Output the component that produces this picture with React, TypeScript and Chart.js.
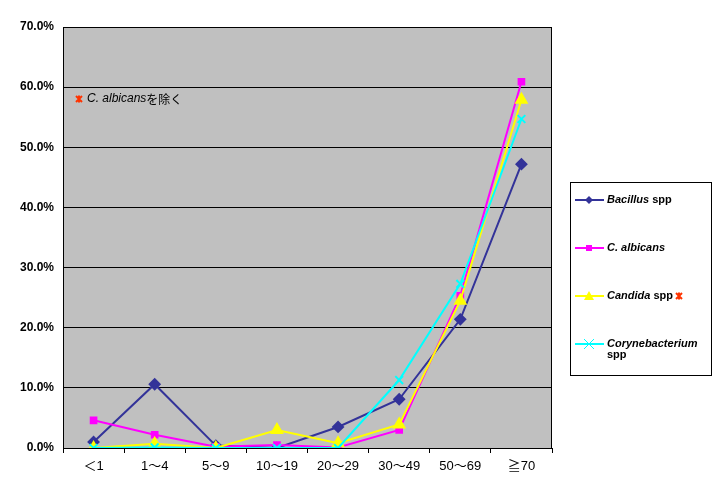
import React, { useEffect, useRef } from 'react';
import Chart from 'chart.js/auto';

const ageGroups = ['＜1', '1～4', '5～9', '10～19', '20～29', '30～49', '50～69', '≧70'];
const bacillus = [1.0, 10.6, 0.4, 0.0, 3.5, 8.1, 21.4, 47.2];
const cAlbicans = [4.6, 2.2, 0.2, 0.5, 0.1, 3.0, 25.3, 60.9];
const candida = [0.0, 0.7, 0.0, 3.0, 0.8, 3.9, 24.5, 57.9];
const coryne = [0.0, 0.1, 0.0, 0.0, 0.0, 11.3, 27.3, 54.7];

const FONT = '"Liberation Sans", "Noto Sans CJK JP", sans-serif';

interface LegendItem {
  name: string;
  suffix: string;
  color: string;
  shape: string;
  star?: boolean;
  wrapSuffix?: boolean;
}

const legendItems: LegendItem[] = [
  { name: 'Bacillus', suffix: ' spp', color: '#333399', shape: 'diamond' },
  { name: 'C. albicans', suffix: '', color: '#FF00FF', shape: 'square' },
  { name: 'Candida', suffix: ' spp', color: '#FFFF00', shape: 'triangle', star: true },
  { name: 'Corynebacterium', suffix: 'spp', color: '#00FFFF', shape: 'cross', wrapSuffix: true },
];

const drawStar = (ctx: CanvasRenderingContext2D, x: number, y: number) => {
  ctx.save();
  ctx.strokeStyle = '#FF3300';
  ctx.lineWidth = 2;
  ctx.beginPath();
  ctx.moveTo(x - 3, y - 3); ctx.lineTo(x + 3, y + 3);
  ctx.moveTo(x + 3, y - 3); ctx.lineTo(x - 3, y + 3);
  ctx.moveTo(x, y - 3.5); ctx.lineTo(x, y + 3.5);
  ctx.stroke();
  ctx.restore();
};

const drawShape = (ctx: CanvasRenderingContext2D, shape: string, x: number, y: number, color: string) => {
  ctx.save();
  ctx.fillStyle = color;
  ctx.strokeStyle = color;
  ctx.beginPath();
  if (shape === 'diamond') {
    ctx.moveTo(x, y - 4); ctx.lineTo(x + 4, y); ctx.lineTo(x, y + 4); ctx.lineTo(x - 4, y); ctx.closePath(); ctx.fill();
  } else if (shape === 'square') {
    ctx.fillRect(x - 3, y - 3, 6, 6);
  } else if (shape === 'triangle') {
    ctx.moveTo(x, y - 5); ctx.lineTo(x + 5, y + 4); ctx.lineTo(x - 5, y + 4); ctx.closePath(); ctx.fill();
  } else {
    ctx.lineWidth = 1;
    ctx.moveTo(x - 5, y - 5); ctx.lineTo(x + 5, y + 5);
    ctx.moveTo(x + 5, y - 5); ctx.lineTo(x - 5, y + 5);
    ctx.stroke();
  }
  ctx.restore();
};

const decorPlugin = {
  id: 'decor',
  beforeDraw(chart: any) {
    const { ctx, chartArea } = chart;
    ctx.save();
    ctx.fillStyle = '#C0C0C0';
    ctx.fillRect(chartArea.left, chartArea.top, chartArea.right - chartArea.left, chartArea.bottom - chartArea.top);
    ctx.restore();
  },
  afterDraw(chart: any) {
    const { ctx, chartArea } = chart;
    ctx.save();
    ctx.strokeStyle = '#000000';
    ctx.lineWidth = 1;
    ctx.strokeRect(chartArea.left + 0.5, chartArea.top + 0.5, chartArea.right - chartArea.left - 1, chartArea.bottom - chartArea.top);

    // note in plot
    drawStar(ctx, 79, 99);
    ctx.fillStyle = '#000000';
    ctx.font = `italic 12px ${FONT}`;
    ctx.textBaseline = 'middle';
    ctx.fillText('C. albicans', 87, 99);
    const w = ctx.measureText('C. albicans').width;
    ctx.font = `12px "Noto Sans CJK JP", sans-serif`;
    ctx.fillText('を除く', 87 + w, 99);

    // legend box
    ctx.strokeStyle = '#000000';
    ctx.strokeRect(570.5, 182.5, 141, 193);
    legendItems.forEach((item, i) => {
      const y = 200 + i * 48;
      ctx.strokeStyle = item.color;
      ctx.lineWidth = 2;
      ctx.beginPath();
      ctx.moveTo(575, y);
      ctx.lineTo(604, y);
      ctx.stroke();
      drawShape(ctx, item.shape, 589, y, item.color);
      ctx.fillStyle = '#000000';
      ctx.textBaseline = 'middle';
      ctx.font = `italic bold 11px ${FONT}`;
      ctx.fillText(item.name, 607, y);
      const nw = ctx.measureText(item.name).width;
      ctx.font = `bold 11px ${FONT}`;
      if (item.wrapSuffix) {
        ctx.fillText(item.suffix, 607, y + 11);
      } else if (item.suffix) {
        ctx.fillText(item.suffix, 607 + nw, y);
        const sw = ctx.measureText(item.suffix).width;
        if (item.star) drawStar(ctx, 607 + nw + sw + 6, y);
      }
    });
    ctx.restore();
  },
};

const makeSet = (label: string, data: number[], color: string, pointStyle: string, radius: number, width: number) => ({
  label,
  data,
  borderColor: color,
  backgroundColor: color,
  pointBackgroundColor: color,
  pointBorderColor: color,
  pointStyle,
  pointRadius: radius,
  borderWidth: width,
  tension: 0,
});

const App: React.FC = () => {
  const canvasRef = useRef<HTMLCanvasElement>(null);
  const chartRef = useRef<Chart | null>(null);

  useEffect(() => {
    document.body.style.margin = '0';
    if (!canvasRef.current) return;
    if (chartRef.current) chartRef.current.destroy();

    chartRef.current = new Chart(canvasRef.current, {
      type: 'line',
      data: {
        labels: ageGroups,
        datasets: [
          makeSet('Corynebacterium spp', coryne, '#00FFFF', 'crossRot', 5.5, 2),
          makeSet('Candida spp', candida, '#FFFF00', 'triangle', 6, 2),
          makeSet('C. albicans', cAlbicans, '#FF00FF', 'rect', 4, 2),
          makeSet('Bacillus spp', bacillus, '#333399', 'rectRot', 5, 2),
        ],
      },
      options: {
        animation: false,
        responsive: false,
        layout: { padding: { top: 27, right: 176, left: 0, bottom: 0 } },
        plugins: {
          legend: { display: false },
          tooltip: { enabled: false },
        },
        scales: {
          x: {
            offset: true,
            grid: {
              offset: true,
              drawOnChartArea: false,
              color: '#000000',
              tickLength: 5,
            },
            border: { color: '#000000' },
            ticks: {
              color: '#000000',
              font: { family: FONT, size: 13 },
              padding: 6,
              maxRotation: 0,
            },
            afterFit: (scale: any) => { scale.height = 45; },
          },
          y: {
            min: 0,
            max: 70,
            grid: { color: '#000000', drawTicks: false },
            border: { color: '#000000' },
            ticks: {
              stepSize: 10,
              color: '#000000',
              padding: 9,
              font: { family: FONT, size: 12, weight: 'bold' },
              callback: (v: number | string) => Number(v).toFixed(1) + '%',
            },
            afterFit: (scale: any) => { scale.width = 63; },
          },
        },
      },
      plugins: [decorPlugin],
    });

    return () => {
      if (chartRef.current) {
        chartRef.current.destroy();
        chartRef.current = null;
      }
    };
  }, []);

  return (
    <div style={{ width: 728, height: 493, background: '#ffffff' }}>
      <canvas ref={canvasRef} width={728} height={493}></canvas>
    </div>
  );
};

export default App;
